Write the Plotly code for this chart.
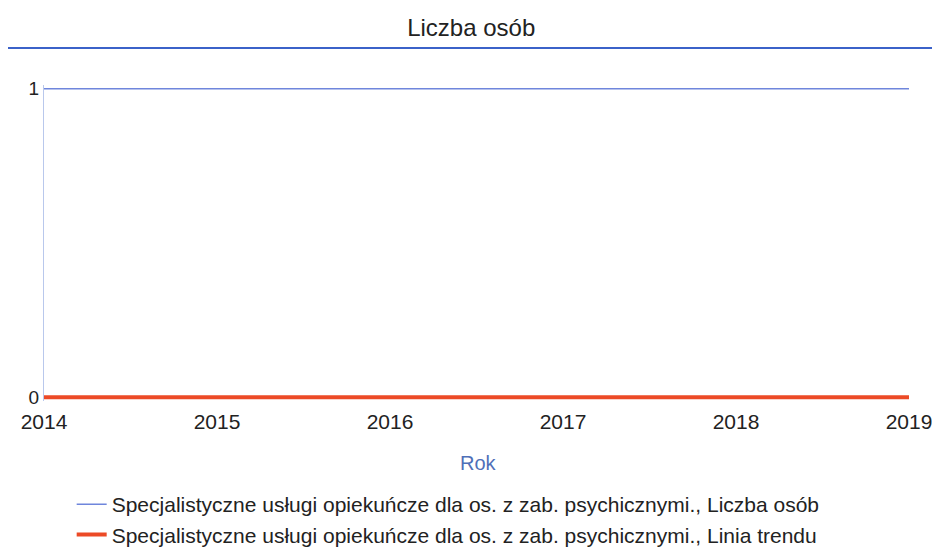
import plotly.graph_objects as go

# data
years = [2014, 2015, 2016, 2017, 2018, 2019]
liczba_osob = [1, 1, 1, 1, 1, 1]
linia_trendu = [0, 0, 0, 0, 0, 0]
series_names = [
    "Specjalistyczne usługi opiekuńcze dla os. z zab. psychicznymi., Liczba osób",
    "Specjalistyczne usługi opiekuńcze dla os. z zab. psychicznymi., Linia trendu",
]

fig = go.Figure()

fig.add_trace(go.Scatter(
    x=years,
    y=liczba_osob,
    mode="lines",
    name=series_names[0],
    line=dict(color="#6f86dc", width=1.5)
))

fig.add_trace(go.Scatter(
    x=years,
    y=linia_trendu,
    mode="lines",
    name=series_names[1],
    line=dict(color="#ec4a26", width=4)
))

# blue separator line under the title
fig.add_shape(
    type="line", xref="paper", yref="paper",
    x0=-0.045, x1=1.04, y0=1.117, y1=1.117,
    line=dict(color="#3b62c9", width=2)
)

# axis title placed by hand
fig.add_annotation(
    text="Rok", xref="paper", yref="paper",
    x=0.502, y=-0.196, xanchor="center", yanchor="middle",
    showarrow=False, font=dict(size=20, color="#4f6fb8")
)

# the page puts the figure 8px in from the top-left corner
fig.update_layout(
    width=932,
    height=540,
    margin=dict(l=36, r=31, t=77, b=147),
    paper_bgcolor="white",
    plot_bgcolor="white",
    font=dict(family="Liberation Sans, Arial, sans-serif", color="#222222"),
    title=dict(
        text="Liczba osób",
        x=0.497, xanchor="center",
        y=0.963, yanchor="middle",
        font=dict(size=24, color="#222222")
    ),
    xaxis=dict(
        range=[2014, 2019],
        tickvals=years,
        ticktext=[str(y) for y in years],
        showgrid=False,
        zeroline=False,
        showline=False,
        ticks="",
        ticklabelstandoff=6,
        ticklabeloverflow="allow",
        tickfont=dict(size=21),
        automargin=False
    ),
    yaxis=dict(
        range=[-0.012, 1.012],
        tickvals=[0, 1],
        showgrid=False,
        zeroline=False,
        showline=True,
        linecolor="#b9c8ec",
        linewidth=1,
        ticks="",
        tickfont=dict(size=19),
        automargin=False
    ),
    legend=dict(
        orientation="v",
        x=0.032, xanchor="left",
        yref="container",
        y=0.1185, yanchor="top",
        font=dict(size=21, color="#222222"),
        tracegroupgap=0,
        itemwidth=30
    ),
    showlegend=True
)

fig.write_html("out.html")
